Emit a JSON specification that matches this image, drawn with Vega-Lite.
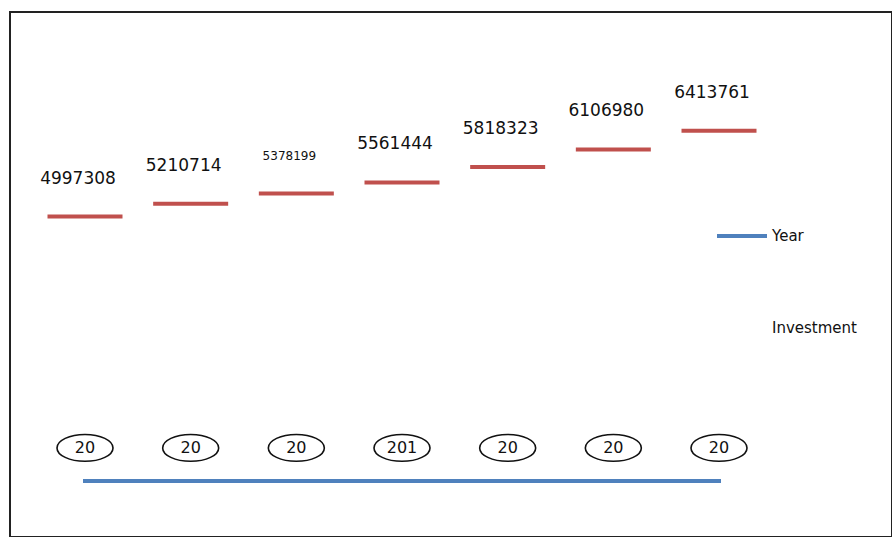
{
  "$schema": "https://vega.github.io/schema/vega-lite/v6.json",
  "width": 882,
  "height": 525,
  "autosize": {"type": "none"},
  "padding": {"left": 10, "top": 12, "right": 0, "bottom": 0},
  "config": {
    "view": {"stroke": "#222222", "strokeWidth": 2},
    "font": "DejaVu Sans"
  },
  "data": {
    "values": [
      {"year": 2010, "investment": 4997308, "label": "20"},
      {"year": 2011, "investment": 5210714, "label": "20"},
      {"year": 2012, "investment": 5378199, "label": "20"},
      {"year": 2013, "investment": 5561444, "label": "201"},
      {"year": 2014, "investment": 5818323, "label": "20"},
      {"year": 2015, "investment": 6106980, "label": "20"},
      {"year": 2016, "investment": 6413761, "label": "20"}
    ]
  },
  "encoding": {
    "x": {"field": "year", "type": "ordinal", "scale": {"type": "point", "range": [75, 709], "padding": 0}, "axis": null}
  },
  "layer": [
    {
      "mark": {"type": "line", "strokeWidth": 4, "strokeCap": "square"},
      "encoding": {
        "y": {"field": "year", "type": "quantitative", "scale": {"domain": [0, 7750000], "range": [469, 0], "nice": false, "zero": true}, "axis": null},
        "color": {
          "datum": "Year",
          "scale": {"domain": ["Year", "Investment"], "range": ["#4F81BD", "#C0504D"]},
          "legend": {
            "title": null,
            "orient": "none",
            "legendX": 705,
            "legendY": 197,
            "symbolType": "stroke",
            "symbolSize": 2500,
            "symbolStrokeWidth": 4,
            "labelFontSize": 15,
            "labelFont": "DejaVu Sans",
            "labelColor": "#111111",
            "labelOffset": 3,
            "rowPadding": 57,
            "encode": {
              "symbols": {"update": {"opacity": {"signal": "datum.value === 'Investment' ? 0 : 1"}}}
            }
          }
        }
      }
    },
    {
      "mark": {"type": "tick", "size": 75, "thickness": 4, "yOffset": 38, "opacity": 1},
      "encoding": {
        "y": {"field": "investment", "type": "quantitative"},
        "color": {"datum": "Investment"}
      }
    },
    {
      "mark": {"type": "text", "fontSize": 17, "baseline": "middle", "dx": -7, "color": "#111111"},
      "encoding": {
        "y": {"field": "investment", "type": "quantitative"},
        "text": {"field": "investment", "type": "quantitative", "format": "d"},
        "size": {"condition": {"test": "datum.year === 2012", "value": 12}, "value": 17}
      }
    },
    {
      "mark": {
        "type": "point",
        "shape": "M-1,0A1,0.48 0 1,1 1,0A1,0.48 0 1,1 -1,0Z",
        "size": 3136,
        "filled": false,
        "stroke": "#111111",
        "strokeWidth": 1.6,
        "opacity": 1,
        "yOffset": -33
      },
      "encoding": {
        "y": {"field": "year", "type": "quantitative"}
      }
    },
    {
      "mark": {"type": "text", "fontSize": 16, "baseline": "middle", "yOffset": -33, "color": "#111111"},
      "encoding": {
        "y": {"field": "year", "type": "quantitative"},
        "text": {"field": "label", "type": "nominal"}
      }
    }
  ]
}
